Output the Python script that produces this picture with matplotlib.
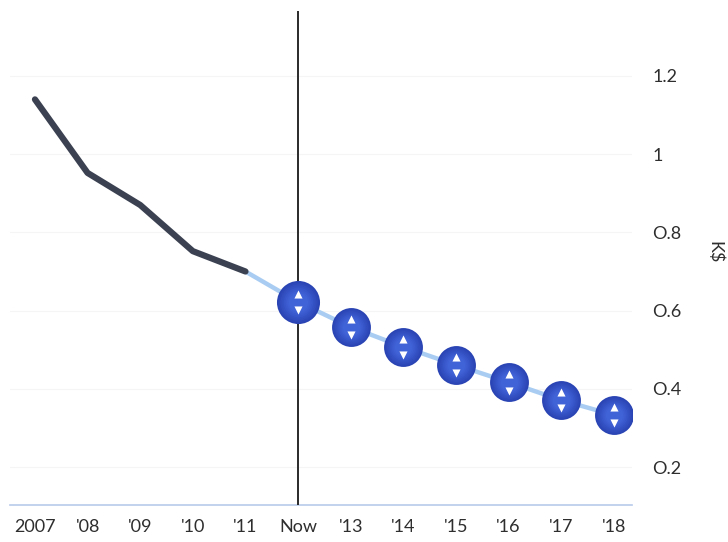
import matplotlib.pyplot as plt
from matplotlib import transforms
from matplotlib.colors import to_rgb

plt.rcParams['font.family'] = ['Lato', 'DejaVu Sans']

labels = ['2007', "'08", "'09", "'10", "'11", 'Now', "'13", "'14", "'15", "'16", "'17", "'18"]
history_x = [0, 1, 2, 3, 4]
history = [1.14, 0.952, 0.87, 0.752, 0.70]
forecast_x = [5, 6, 7, 8, 9, 10, 11]
forecast = [0.622, 0.558, 0.507, 0.461, 0.417, 0.371, 0.333]
yticks = [0.2, 0.4, 0.6, 0.8, 1.0, 1.2]
ytick_labels = ['O.2', 'O.4', 'O.6', 'O.8', '1', '1.2']

dark = '#3b4151'
connector = '#a9cdf2'
dot_edge = '#2a44b4'
dot_center = '#4163d8'
text = '#2e2e2e'

fig = plt.figure(figsize=(7.28, 5.42), dpi=100)
ax = fig.add_axes([0.0137, 0.0683, 0.854, 0.9114])
ax.set_xlim(-0.475, 11.34)
ax.set_ylim(0.103, 1.366)

# faint horizontal guides
for v in yticks:
    ax.axhline(v, color='#f5f5f5', lw=0.8, zorder=0)

# light connector from last actual year through the forecast
ax.plot([history_x[-1]] + forecast_x, [history[-1]] + forecast,
        color=connector, lw=3.2, solid_capstyle='round', zorder=2)
ax.plot(history_x, history, color=dark, lw=4.5,
        solid_capstyle='round', solid_joinstyle='round', zorder=3)

# "now" marker line
ax.axvline(5, color='#2a2a2a', lw=1.4, zorder=4)

# shaded balls: stack of circles blending edge colour to centre colour
c0, c1 = to_rgb(dot_edge), to_rgb(dot_center)
steps = 8
sizes = [31] + [28] * (len(forecast) - 1)
for x, y, s in zip(forecast_x, forecast, sizes):
    for k in range(steps):
        t = k / (steps - 1)
        col = tuple(a + (b - a) * t for a, b in zip(c0, c1))
        ax.plot(x, y, 'o', ms=s * (1 - 0.55 * t), color=col, mew=0, zorder=5)

up = transforms.offset_copy(ax.transData, fig=fig, x=0, y=6, units='points')
down = transforms.offset_copy(ax.transData, fig=fig, x=0, y=-6, units='points')
ax.scatter(forecast_x, forecast, marker='^', s=34, color='white', lw=0, zorder=6, transform=up)
ax.scatter(forecast_x, forecast, marker='v', s=34, color='white', lw=0, zorder=6, transform=down)

for side in ['top', 'left', 'right']:
    ax.spines[side].set_visible(False)
ax.spines['bottom'].set_color('#b7c9ea')
ax.spines['bottom'].set_linestyle((0, (1.5, 1)))
ax.spines['bottom'].set_linewidth(1.2)

ax.set_xticks(range(len(labels)))
ax.set_xticklabels(labels)
ax.yaxis.tick_right()
ax.set_yticks(yticks)
ax.set_yticklabels(ytick_labels)
ax.tick_params(axis='x', length=0, pad=10, labelsize=13, labelcolor=text)
ax.tick_params(axis='y', length=0, pad=15, labelsize=13, labelcolor=text)

fig.text(0.982, 0.535, 'K$', rotation=-90, ha='center', va='center',
         fontsize=13, color=text)

fig.savefig('out.png', dpi=100, facecolor='white')
